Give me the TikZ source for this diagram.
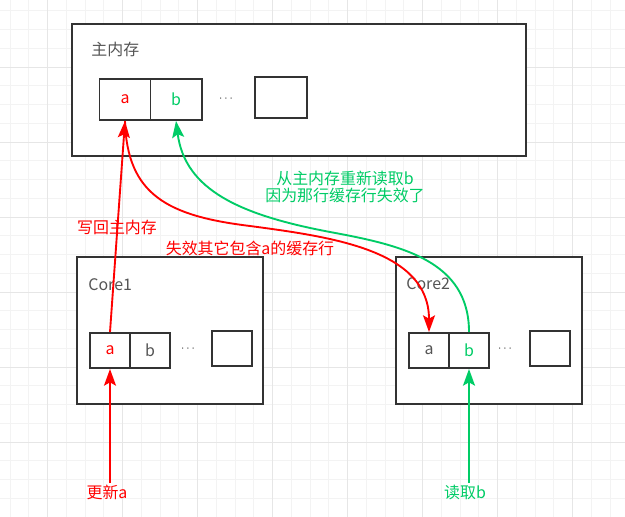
\documentclass[tikz,border=0pt]{standalone}
\usepackage{fontspec}
\setmainfont{Noto Sans CJK SC}
\usetikzlibrary{arrows.meta}
\definecolor{linegray}{HTML}{333333}
\definecolor{textgray}{HTML}{555555}
\definecolor{wred}{HTML}{FF0000}
\definecolor{rgreen}{HTML}{00CC66}
\definecolor{gridminor}{HTML}{F3F3F3}
\definecolor{gridmajor}{HTML}{E6E6E6}
\tikzset{
	txt/.style={font=\fontsize{13.6}{16}\selectfont, inner sep=1pt},
	membox/.style={draw=linegray, line width=1.7pt, fill=white},
	cellbox/.style={draw=linegray, line width=1.7pt, fill=white, txt, text=textgray},
	dots/.style={text=linegray, font=\fontsize{10}{11}\selectfont},
	flow/.style={line width=1.6pt, -{Stealth[length=0.5cm, width=0.36cm, inset=0.1cm]}}
}

\begin{document}
\begin{tikzpicture}[x=0.03cm, y=-0.03cm]

		\useasboundingbox[fill=white] (0,0) rectangle (625,517);

		% Background grid
		\foreach \i in {0,...,33} {
			\draw[gridminor, line width=0.6pt] (10+18.75*\i,0) -- (10+18.75*\i,517);
		}
		\foreach \i in {0,...,27} {
			\draw[gridminor, line width=0.6pt] (0,10.75+18.75*\i) -- (625,10.75+18.75*\i);
		}
		\foreach \i in {0,...,7} {
			\draw[gridmajor, line width=0.6pt] (47.5+75*\i,0) -- (47.5+75*\i,517);
		}
		\foreach \i in {0,...,6} {
			\draw[gridmajor, line width=0.6pt] (0,67+75*\i) -- (625,67+75*\i);
		}

		% Main memory
		\node[membox, minimum width=13.62cm, minimum height=3.96cm] (MEM) at (299,90) {};
		\node[txt, text=textgray, anchor=west] (MEM-label) at (90,49) {主内存};
		\node[cellbox, minimum width=1.53cm, minimum height=1.23cm, text=wred] (MEM-a) at (125,99.5) {a};
		\node[cellbox, minimum width=1.53cm, minimum height=1.23cm, text=rgreen] (MEM-b) at (176,99.5) {b};
		\node[dots] (MEM-dots) at (226,99) {$\cdots$};
		\node[cellbox, minimum width=1.56cm, minimum height=1.23cm] (MEM-end) at (281,97.5) {};

		% Core1
		\node[membox, minimum width=5.58cm, minimum height=4.41cm] (C1) at (170,330.5) {};
		\node[txt, text=textgray, anchor=west] (C1-label) at (87,285) {Core1};
		\node[cellbox, minimum width=1.2cm, minimum height=1.05cm, text=wred] (C1-a) at (110,350.5) {a};
		\node[cellbox, minimum width=1.2cm, minimum height=1.05cm] (C1-b) at (150,350.5) {b};
		\node[dots] (C1-dots) at (188,349) {$\cdots$};
		\node[cellbox, minimum width=1.2cm, minimum height=1.05cm] (C1-end) at (232,348.5) {};

		% Core2
		\node[membox, minimum width=5.58cm, minimum height=4.41cm] (C2) at (489,330.5) {};
		\node[txt, text=textgray, anchor=west] (C2-label) at (405,284) {Core2};
		\node[cellbox, minimum width=1.2cm, minimum height=1.05cm] (C2-a) at (429,350.5) {a};
		\node[cellbox, minimum width=1.2cm, minimum height=1.05cm, text=rgreen] (C2-b) at (469,350.5) {b};
		\node[dots] (C2-dots) at (505,349) {$\cdots$};
		\node[cellbox, minimum width=1.2cm, minimum height=1.05cm] (C2-end) at (550,348.5) {};

		% Labels
		\node[txt, text=wred] (upd-a) at (107,492) {更新a};
		\node[txt, text=rgreen] (read-b) at (465,492) {读取b};
		\node[txt, text=wred] (writeback) at (117,227) {写回主内存};
		\node[txt, text=wred] (invalidate) at (250,248) {失效其它包含a的缓存行};
		\node[txt, text=rgreen, align=center, font=\fontsize{13.6}{14.6}\selectfont] (reload) at (345,186.5)
			{从主内存重新读取b\\因为那行缓存行失效了};

		% Messages
		\draw[flow, wred] (C1-a.south |- upd-a.north) -- (C1-a.south);
		\draw[flow, rgreen] (C2-b.south |- read-b.north) -- (C2-b.south);
		\draw[flow, wred] (C1-a.north) -- (MEM-a.south);
		\draw[flow, wred] (MEM-a.south) .. controls (127,195) and (168,216) .. (250,226)
			.. controls (332,237) and (429,250) .. (C2-a.north);
		\draw[flow, rgreen] (C2-b.north) .. controls (469,260) and (400,245) .. (330,232)
			.. controls (240,215) and (185,190) .. (MEM-b.south);

	\end{tikzpicture}
\end{document}
